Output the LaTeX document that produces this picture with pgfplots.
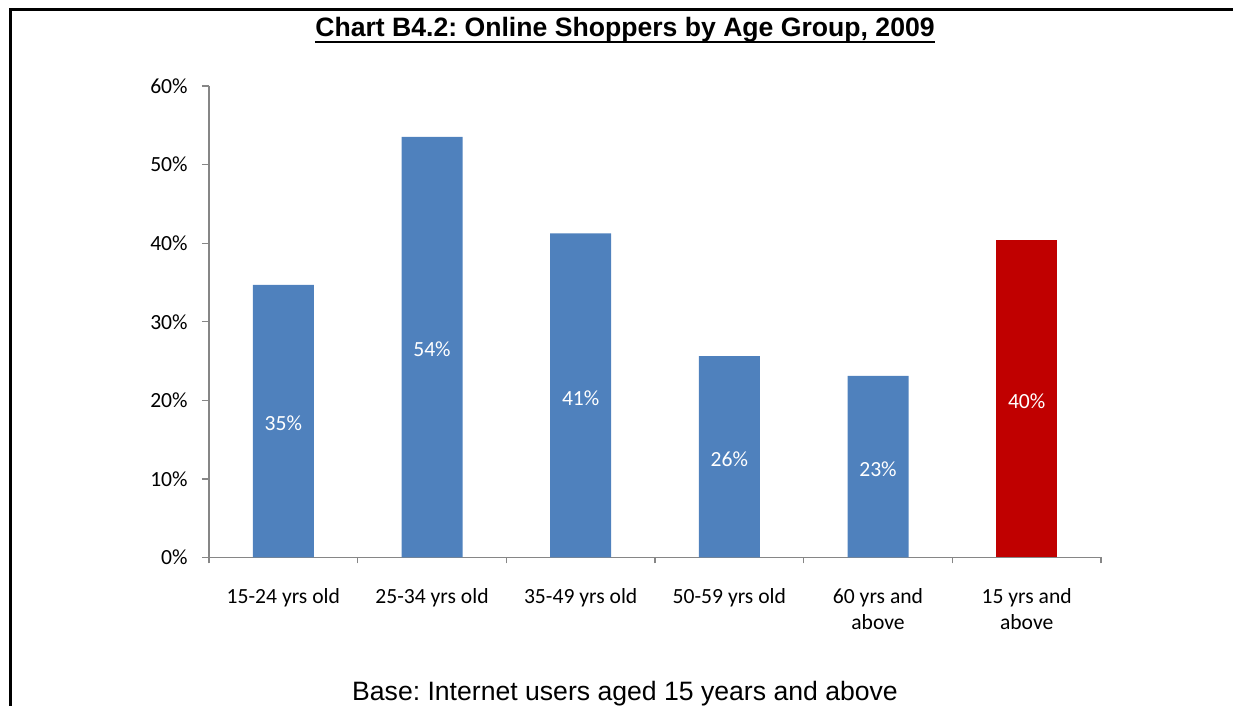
\documentclass[border=0pt]{standalone}
\usepackage{fontspec}
\setmainfont{Carlito}
\newfontfamily\arial{Liberation Sans}
\usepackage{pgfplots}
\usepackage{pgfplotstable}
\pgfplotsset{compat=1.18}
\definecolor{barblue}{HTML}{4F81BD}
\definecolor{barred}{HTML}{C00000}
\definecolor{axisgray}{HTML}{868686}
\pgfplotstableread{
x y label
0 34.68 35\%
1 53.51 54\%
2 41.26 41\%
3 25.64 26\%
4 23.10 23\%
}\blueData
\pgfplotstableread{
x y label
5 40.40 40\%
}\redData
\frenchspacing
\begin{document}
\frenchspacing
\begin{tikzpicture}
\path[use as bounding box] (0,0) rectangle (616.5pt,353pt);
\draw[line width=1.5pt] (5pt,0) -- (5pt,348pt) -- (616.5pt,348pt);
\node[anchor=base, inner sep=0pt, font={\arial\bfseries\fontsize{13.3}{15}\selectfont}] (T) at (312.5pt,334.5pt) {Chart B4.2: Online Shoppers by Age Group, 2009};
\draw[line width=1.15pt] ([yshift=-2.6pt]T.base west) -- ([yshift=-2.6pt]T.base east);
\node[anchor=base, inner sep=0pt, font={\arial\fontsize{13.3}{15}\selectfont}] at (312.5pt,2.9pt) {Base: Internet users aged 15 years and above};
\begin{axis}[
  at={(104.5pt,74.25pt)}, anchor=south west,
  scale only axis, width=446pt, height=235.75pt,
  xmin=-0.5, xmax=5.5, ymin=0, ymax=60,
  axis x line=bottom, axis y line=left,
  axis line style={-, draw=axisgray, line width=0.6pt},
  tick style={draw=axisgray, line width=0.6pt},
  tick align=outside,
  xtick={0,...,5},
  major x tick style={draw=none},
  xticklabels={{15-24 yrs old},{25-34 yrs old},{35-49 yrs old},{50-59 yrs old},{60 yrs and\\above},{15 yrs and\\above}},
  minor xtick={-0.5,0.5,...,5.5},
  minor tick length=3pt,
  major tick length=3.5pt,
  ytick={0,10,...,60},
  yticklabels={0\%,10\%,20\%,30\%,40\%,50\%,60\%},
  xticklabel style={anchor=north, inner sep=0pt, align=center, font=\fontsize{10.8}{13}\selectfont, text=black, yshift=-11.8pt},
  yticklabel style={anchor=east, inner sep=0pt, font=\fontsize{10.8}{13}\selectfont, text=black, xshift=-7pt},
  ybar, bar width=30.5pt, bar shift=0pt,
  nodes near coords, point meta=explicit symbolic,
  visualization depends on={y \as \rawy},
  every node near coord/.append style={anchor=center, text=white, font=\fontsize{10.8}{13}\selectfont, yshift={-1.9646*\rawy*1pt-1.2pt}},
  clip=false,
]
\addplot[fill=barblue, draw=none] table[x=x, y=y, meta=label] {\blueData};
\addplot[fill=barred, draw=none] table[x=x, y=y, meta=label] {\redData};
\end{axis}
\end{tikzpicture}
\end{document}
